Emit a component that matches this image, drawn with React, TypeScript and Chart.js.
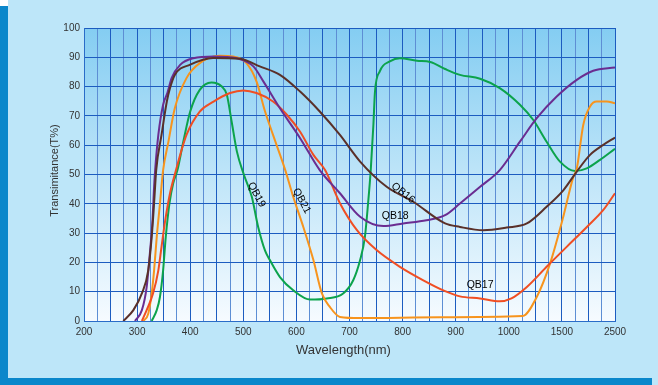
import { useEffect, useRef } from "react";
import { Chart, registerables } from "chart.js";

Chart.register(...registerables);

// Tick labels of the (non-linear) wavelength axis, one per major division
const xTickLabels = ["200", "300", "400", "500", "600", "700", "800", "900", "1000", "1500", "2500"];

// QB16 (brown)
const qb16Wl = [274, 293, 309, 321, 327.5, 332, 336, 346, 356, 362, 371, 400, 443, 494, 531, 569, 607, 644, 682, 720, 770, 820, 880, 908, 952, 996, 1170, 1356, 1530, 1780, 2030, 2280, 2500];
const qb16T = [0, 3.7, 9.4, 17.3, 28.7, 40.2, 51.5, 63.5, 74.9, 79.5, 84, 87.5, 89.8, 89.5, 86.9, 84, 78.3, 71.5, 63.5, 54.4, 45.8, 40.7, 33.3, 32.1, 31.0, 31.9, 33.3, 39, 44.7, 51, 56.7, 60.1, 62.6];

// QB18 (purple)
const qb18Wl = [296, 309, 318, 324, 329, 332, 334, 340, 349, 357, 365, 381, 406, 444, 488, 519, 538, 569, 607, 644, 682, 720, 764, 801, 845, 880, 908, 946, 983, 1105, 1263, 1451, 1780, 2090, 2500];
const qb18T = [0, 3.7, 11.6, 23, 34.4, 45.8, 51.5, 63.5, 73.8, 77.8, 82.9, 87.4, 89.7, 90.3, 89.7, 86.9, 81.7, 72.6, 62.4, 51.5, 43.6, 35.6, 32.4, 33.3, 34.4, 36.1, 40.1, 45.8, 51.5, 61.2, 69.2, 76.6, 82.3, 85.4, 86.5];

// QB21 (orange)
const qb21Wl = [312, 321, 327.5, 332, 337, 343, 349, 359, 371, 393, 418, 456, 481, 506, 525, 541, 556, 579, 594, 613, 632, 648, 663, 682, 720, 870, 1130, 1263, 1388, 1526, 1715, 1780, 1903, 2030, 2155, 2343, 2500];
const qb21T = [0, 2.5, 9.4, 17.3, 28.7, 40, 51.5, 61.2, 72.6, 82.9, 88, 90.5, 90.3, 88, 81.7, 71.5, 63.5, 51.5, 42.4, 32.1, 20.8, 9.4, 4.8, 1.4, 1.0, 1.3, 1.7, 8.2, 19.6, 35.6, 49.2, 52, 67, 73.2, 74.9, 74.9, 74.3];

// QB17 (red)
const qb17Wl = [309, 318, 330, 340, 346, 353, 362, 371, 393, 418, 444, 475, 500, 525, 556, 582, 607, 632, 654, 682, 714, 751, 795, 839, 880, 908, 946, 983, 1025, 1170, 1356, 1590, 1970, 2280, 2500];
const qb17T = [0, 3.7, 9.4, 17.3, 25.3, 34.4, 43.6, 50, 63.5, 71.5, 74.9, 77.8, 78.7, 77.8, 74.9, 70.4, 64.6, 56.7, 51.5, 40.2, 31, 24.2, 18.5, 13.9, 10.2, 8.4, 7.7, 6.7, 7.7, 11.6, 18.5, 25.3, 32.1, 37.9, 43.6];

// QB19 (green)
const qb19Wl = [327.5, 337, 343, 349, 354, 361, 368, 376, 387, 400, 418, 440, 459, 469, 478, 488, 501, 516, 528, 541, 550, 569, 594, 626, 657, 688, 707, 720, 729, 735, 740, 745, 748, 757, 776, 795, 827, 852, 880, 908, 946, 983, 1105, 1231, 1356, 1482, 1747, 1967, 2218, 2500];
const qb19T = [0, 3.7, 8.2, 17.3, 28.7, 40.2, 47, 51.5, 61.2, 71.5, 78.9, 81.4, 80.1, 77.2, 68.1, 57.8, 50, 42.4, 32.1, 24, 20.8, 15, 10.5, 7.3, 7.7, 9.4, 13.9, 20.8, 28.7, 40.2, 51.5, 67, 78.3, 85.2, 88.6, 89.7, 88.8, 88.4, 86, 84, 82.7, 79.5, 73.8, 68.6, 61.2, 54.4, 51.2, 52.1, 55, 58.8];

// Curve labels: text, wavelength, T, rotation in degrees
const labelTexts = ["QB16", "QB18", "QB17", "QB19", "QB21"];
const labelWl = [801, 786, 946, 525, 610];
const labelT = [43.7, 35.8, 12.2, 43.1, 41];
const labelRot = [38, 0, 0, 62, 62];

// piecewise wavelength -> axis position (axis divisions are not uniform)
function toPos(wl: number): number {
  if (wl <= 1000) return (wl - 200) / 100;
  if (wl <= 1500) return 8 + (wl - 1000) / 500;
  return 9 + (wl - 1500) / 1000;
}

function series(wl: number[], t: number[]) {
  return wl.map((w, i) => ({ x: toPos(w), y: t[i] }));
}

const bgPlugin = {
  id: "plotBg",
  beforeDraw(chart: any) {
    const { ctx, chartArea } = chart;
    if (!chartArea) return;
    const g = ctx.createLinearGradient(0, chartArea.top, 0, chartArea.bottom);
    g.addColorStop(0, "#84cdf2");
    g.addColorStop(0.55, "#c4e7f9");
    g.addColorStop(1, "#f6fbff");
    ctx.save();
    ctx.fillStyle = g;
    ctx.fillRect(chartArea.left, chartArea.top, chartArea.right - chartArea.left, chartArea.bottom - chartArea.top);
    ctx.restore();
  },
};

const textPlugin = {
  id: "texts",
  afterDraw(chart: any) {
    const { ctx, chartArea, scales } = chart;
    const xs = scales.x;
    const ys = scales.y;
    ctx.save();
    ctx.fillStyle = "#000";
    ctx.font = "10.5px Arial, 'Liberation Sans', sans-serif";
    ctx.textAlign = "center";
    ctx.textBaseline = "middle";
    labelTexts.forEach((txt, i) => {
      const px = xs.getPixelForValue(toPos(labelWl[i]));
      const py = ys.getPixelForValue(labelT[i]);
      ctx.save();
      ctx.translate(px, py);
      ctx.rotate((labelRot[i] * Math.PI) / 180);
      ctx.fillText(txt, 0, 0);
      ctx.restore();
    });
    // axis titles
    ctx.fillStyle = "#333";
    ctx.font = "13px Arial, 'Liberation Sans', sans-serif";
    ctx.fillText("Wavelength(nm)", (chartArea.left + chartArea.right) / 2 - 6, chartArea.bottom + 29);
    ctx.font = "11px Arial, 'Liberation Sans', sans-serif";
    ctx.save();
    ctx.translate(chartArea.left - 29, (chartArea.top + chartArea.bottom) / 2 - 4);
    ctx.rotate(-Math.PI / 2);
    ctx.fillText("Transimitance(T%)", 0, 0);
    ctx.restore();
    ctx.restore();
  },
};

export default function App() {
  const ref = useRef<HTMLCanvasElement | null>(null);

  useEffect(() => {
    if (!ref.current) return;
    const mk = (label: string, wl: number[], t: number[], color: string) => ({
      label,
      data: series(wl, t),
      borderColor: color,
      borderWidth: 2,
      pointRadius: 0,
      fill: false,
      cubicInterpolationMode: "monotone" as const,
    });
    const chart = new Chart(ref.current, {
      type: "line",
      data: {
        datasets: [
          mk("QB16", qb16Wl, qb16T, "#5a3029"),
          mk("QB18", qb18Wl, qb18T, "#6a2d91"),
          mk("QB17", qb17Wl, qb17T, "#f04e23"),
          mk("QB21", qb21Wl, qb21T, "#f7941d"),
          mk("QB19", qb19Wl, qb19T, "#0ca34c"),
        ],
      },
      options: {
        animation: false,
        responsive: false,
        maintainAspectRatio: false,
        layout: { padding: { top: 28, right: 43, left: 0, bottom: 0 } },
        plugins: { legend: { display: false }, tooltip: { enabled: false } },
        scales: {
          x: {
            type: "linear",
            min: 0,
            max: 10,
            afterFit: (s: any) => {
              s.height = 64;
            },
            ticks: {
              stepSize: 0.25,
              autoSkip: false,
              maxRotation: 0,
              padding: 5,
              color: "#333",
              font: { size: 10, family: "Arial, 'Liberation Sans', sans-serif" },
              callback: (v: any) => {
                const n = Number(v);
                return Math.abs(n - Math.round(n)) < 1e-6 ? xTickLabels[Math.round(n)] : "";
              },
            },
            grid: {
              drawTicks: false,
              lineWidth: 1,
              color: (c: any) => {
                const k = Math.round((c.tick ? c.tick.value : 0) * 4);
                return k % 2 === 0 ? "#1c5cc0" : "#5d8ed4";
              },
            },
            border: { color: "#2a6cc8", width: 1 },
          },
          y: {
            type: "linear",
            min: 0,
            max: 100,
            afterFit: (s: any) => {
              s.width = 84;
            },
            ticks: {
              stepSize: 10,
              padding: 4,
              color: "#333",
              font: { size: 10, family: "Arial, 'Liberation Sans', sans-serif" },
            },
            grid: { drawTicks: false, lineWidth: 1, color: "#1c5cc0" },
            border: { color: "#2a6cc8", width: 1 },
          },
        },
      },
      plugins: [bgPlugin, textPlugin],
    });
    return () => chart.destroy();
  }, []);

  return (
    <div style={{ position: "fixed", left: 0, top: 0, width: 658, height: 385, background: "#bde6f9", overflow: "hidden" }}>
      <div style={{ position: "absolute", left: 0, top: 0, width: 8, height: 6, background: "#ffffff" }} />
      <div style={{ position: "absolute", left: 0, top: 6, width: 8, height: 379, background: "#0a87cb" }} />
      <div style={{ position: "absolute", left: 0, top: 378, width: 652, height: 7, background: "#0a87cb" }} />
      <canvas ref={ref} width={658} height={385} style={{ position: "absolute", left: 0, top: 0, width: 658, height: 385 }} />
    </div>
  );
}
